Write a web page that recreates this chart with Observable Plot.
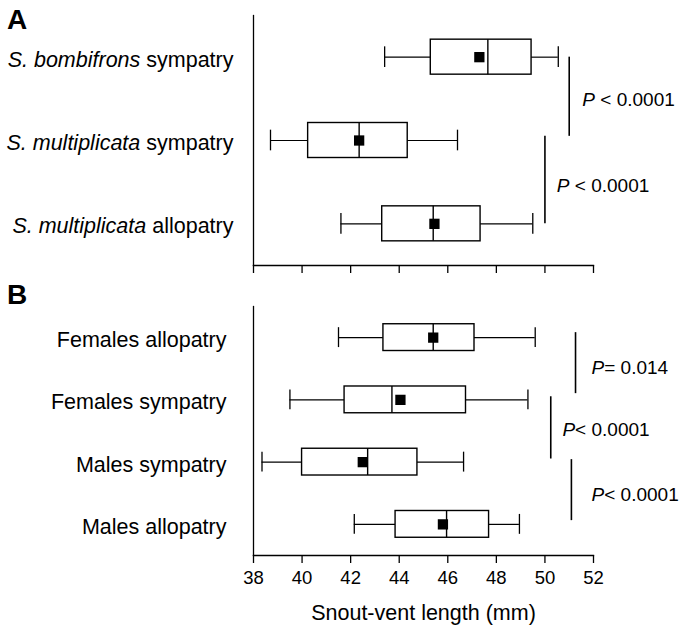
<!DOCTYPE html>
<html>
<head>
<meta charset="utf-8">
<script src="https://cdn.jsdelivr.net/npm/d3@7"></script>
<script src="https://cdn.jsdelivr.net/npm/@observablehq/plot@0.6"></script>
<style>
  body { margin: 0; background: #fff; }
  #wrap { position: relative; width: 682px; height: 628px; font-family: "Liberation Sans", Arial, Helvetica, sans-serif; color: #000; }
  #pa { position: absolute; left: 0; top: 0; }
  #pb { position: absolute; left: 0; top: 285px; }
  .letter { position: absolute; font-weight: bold; font-size: 28px; line-height: 1; }
</style>
</head>
<body>
<div id="wrap">
  <div id="pa"></div>
  <div id="pb"></div>
  <div class="letter" style="left:7px;top:6px;">A</div>
  <div class="letter" style="left:7px;top:281px;">B</div>
</div>
<script>
const FONT = '"Liberation Sans", Arial, Helvetica, sans-serif';

// ---- Panel A data ----
const groupsA = ["S. bombifrons sympatry", "S. multiplicata sympatry", "S. multiplicata allopatry"];
const italicA = ["S. bombifrons", "S. multiplicata", "S. multiplicata"];
const lowA  = [43.4, 38.7, 41.6];
const q1A   = [45.3, 40.25, 43.3];
const medA  = [47.65, 42.35, 45.4];
const q3A   = [49.45, 44.35, 47.35];
const highA = [50.55, 46.4, 49.5];
const meanA = [47.3, 42.35, 45.45];

const sigXA     = [51.0, 50.0];
const sigFromA  = [0, 0.95];
const sigToA    = [0.95, 2.0];
const sigLabelA = ["P < 0.0001", "P < 0.0001"];
const sigTxA    = [51.54, 50.49];
const sigTyA    = [0.51, 1.54];

// ---- Panel B data ----
const groupsB = ["Females allopatry", "Females sympatry", "Males sympatry", "Males allopatry"];
const lowB  = [41.5, 39.5, 38.35, 42.15];
const q1B   = [43.35, 41.75, 40.0, 43.85];
const medB  = [45.4, 43.7, 42.7, 45.95];
const q3B   = [47.1, 46.75, 44.75, 47.7];
const highB = [49.6, 49.3, 46.65, 48.95];
const meanB = [45.4, 44.05, 42.5, 45.8];

const sigXB     = [51.26, 50.24, 51.09];
const sigFromB  = [-0.08, 0.95, 1.96];
const sigToB    = [0.9, 1.95, 2.94];
const sigLabelB = ["P= 0.014", "P< 0.0001", "P< 0.0001"];
const sigTxB    = [51.92, 50.72, 51.92];
const sigTyB    = [0.48, 1.48, 2.52];

// ---- Axis ----
const xDomain = [38, 52];
const xTicks = [38, 40, 42, 44, 46, 48, 50, 52];
const xLabel = "Snout-vent length (mm)";

function panel(cfg) {
  const n = cfg.groups.length;
  const rows = cfg.groups.map((g, i) => ({
    i, g, low: cfg.low[i], q1: cfg.q1[i], med: cfg.med[i], q3: cfg.q3[i], high: cfg.high[i], mean: cfg.mean[i]
  }));
  const sig = cfg.sigX.map((x, k) => ({
    x, from: cfg.sigFrom[k], to: cfg.sigTo[k], label: cfg.sigLabel[k], tx: cfg.sigTx[k], ty: cfg.sigTy[k]
  }));
  const bh = cfg.boxHalf, ch = cfg.capHalf;
  const marks = [
    Plot.frame({anchor: "left", strokeWidth: 1.3}),
    Plot.frame({anchor: "bottom", strokeWidth: 1.3}),
    Plot.axisX({
      ticks: xTicks, tickSize: 8, tickPadding: 7, strokeWidth: 1.3, fontSize: 18.5,
      tickFormat: cfg.tickLabels ? (d => d) : (() => ""), label: null
    }),
    Plot.axisY({
      ticks: d3.range(n), tickSize: 0, tickPadding: cfg.labelPad, fontSize: 21.5, dy: 2.5,
      tickFormat: i => cfg.groups[i], label: null
    }),
    Plot.ruleY(rows, {y: "i", x1: "low", x2: "q1", strokeWidth: 1.2}),
    Plot.ruleY(rows, {y: "i", x1: "q3", x2: "high", strokeWidth: 1.2}),
    Plot.ruleX(rows, {x: "low", y1: d => d.i - ch, y2: d => d.i + ch, strokeWidth: 1.3}),
    Plot.ruleX(rows, {x: "high", y1: d => d.i - ch, y2: d => d.i + ch, strokeWidth: 1.3}),
    Plot.rect(rows, {x1: "q1", x2: "q3", y1: d => d.i - bh, y2: d => d.i + bh, fill: "white", stroke: "black", strokeWidth: 1.4}),
    Plot.ruleX(rows, {x: "med", y1: d => d.i - bh, y2: d => d.i + bh, strokeWidth: 1.4}),
    Plot.dot(rows, {x: "mean", y: "i", symbol: "square", r: 5.8, fill: "black", stroke: null}),
    Plot.ruleX(sig, {x: "x", y1: "from", y2: "to", strokeWidth: 1.6}),
    Plot.text(sig, {x: "tx", y: "ty", text: "label", textAnchor: "start", fontSize: 19})
  ];
  if (cfg.tickLabels) {
    marks.push(Plot.text([xLabel], {frameAnchor: "bottom", text: d => d, dy: 64, fontSize: 21.5}));
  }
  return Plot.plot({
    width: 682, height: cfg.height,
    marginTop: cfg.marginTop, marginBottom: cfg.marginBottom, marginLeft: 253, marginRight: 89,
    style: {fontFamily: FONT, fontSize: "18px", color: "#000", background: "#fff", overflow: "visible"},
    x: {domain: xDomain},
    y: {domain: [-0.5, n - 0.5], reverse: true},
    marks
  });
}

function italicizeP(svg) {
  svg.querySelectorAll('g[aria-label="text"] text').forEach(t => {
    const s = t.textContent;
    if (s.startsWith("P")) {
      t.textContent = "";
      const a = document.createElementNS("http://www.w3.org/2000/svg", "tspan");
      a.setAttribute("font-style", "italic");
      a.textContent = "P";
      const b = document.createElementNS("http://www.w3.org/2000/svg", "tspan");
      b.textContent = s.slice(1);
      t.appendChild(a); t.appendChild(b);
    }
  });
}

const svgA = panel({
  groups: groupsA, low: lowA, q1: q1A, med: medA, q3: q3A, high: highA, mean: meanA,
  sigX: sigXA, sigFrom: sigFromA, sigTo: sigToA, sigLabel: sigLabelA, sigTx: sigTxA, sigTy: sigTyA,
  height: 285, marginTop: 15, marginBottom: 20, boxHalf: 0.21, capHalf: 0.124, labelPad: 20, tickLabels: false
});
// italic genus names in panel A
svgA.querySelectorAll('g[aria-label="y-axis tick label"] text').forEach(t => {
  const s = t.textContent;
  const idx = groupsA.indexOf(s);
  if (idx >= 0) {
    const it = italicA[idx];
    t.textContent = "";
    const a = document.createElementNS("http://www.w3.org/2000/svg", "tspan");
    a.setAttribute("font-style", "italic");
    a.textContent = it;
    const b = document.createElementNS("http://www.w3.org/2000/svg", "tspan");
    b.textContent = s.slice(it.length);
    t.appendChild(a); t.appendChild(b);
  }
});
italicizeP(svgA);
document.getElementById("pa").appendChild(svgA);

const svgB = panel({
  groups: groupsB, low: lowB, q1: q1B, med: medB, q3: q3B, high: highB, mean: meanB,
  sigX: sigXB, sigFrom: sigFromB, sigTo: sigToB, sigLabel: sigLabelB, sigTx: sigTxB, sigTy: sigTyB,
  height: 343, marginTop: 21, marginBottom: 73, boxHalf: 0.215, capHalf: 0.16, labelPad: 27, tickLabels: true
});
italicizeP(svgB);
document.getElementById("pb").appendChild(svgB);
</script>
</body>
</html>
